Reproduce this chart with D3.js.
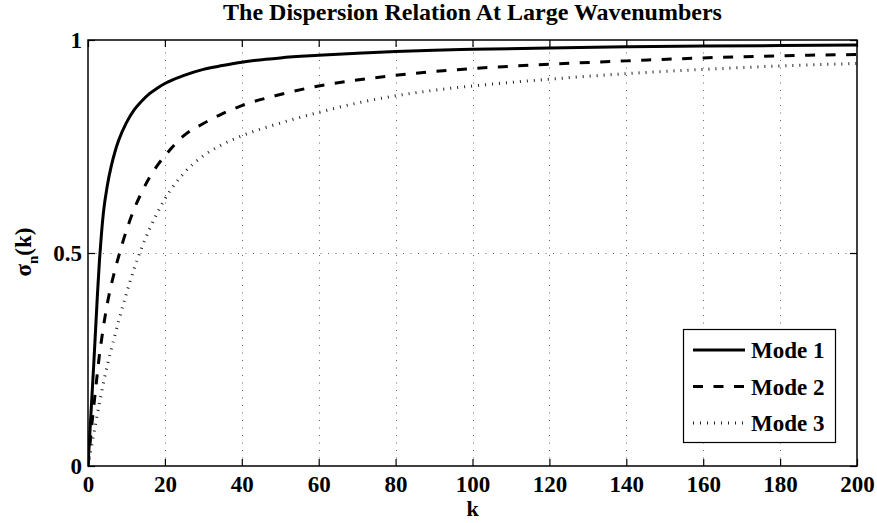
<!DOCTYPE html>
<html>
<head>
<meta charset="utf-8">
<script src="https://cdn.jsdelivr.net/npm/d3@7"></script>
<style>
  html, body { margin: 0; padding: 0; background: #fff; }
  svg { display: block; }
  text { font-family: "Liberation Serif", "Times New Roman", serif; font-weight: bold; fill: #000; }
</style>
</head>
<body>
<svg id="chart" width="877" height="523"></svg>
<script>
// Wavenumber samples and the growth of each mode sigma_n(k)
const kValues = [0, 0.5, 1, 1.5, 2, 2.5, 3, 3.5, 4, 5, 6, 7, 8, 10, 12, 14, 16, 18, 20, 25, 30, 35, 40, 50, 60, 70, 80, 90, 100, 120, 140, 160, 180, 200];
const mode1 = [0, 0.08, 0.16, 0.24, 0.325, 0.41, 0.485, 0.545, 0.594, 0.657, 0.702, 0.737, 0.765, 0.806, 0.836, 0.857, 0.874, 0.887, 0.898, 0.917, 0.931, 0.94, 0.948, 0.958, 0.964, 0.969, 0.973, 0.976, 0.978, 0.981, 0.984, 0.986, 0.987, 0.988];
const mode2 = [0, 0.049, 0.097, 0.14, 0.182, 0.223, 0.263, 0.295, 0.326, 0.38, 0.423, 0.46, 0.493, 0.553, 0.603, 0.643, 0.677, 0.705, 0.728, 0.776, 0.804, 0.827, 0.846, 0.872, 0.892, 0.906, 0.917, 0.926, 0.933, 0.943, 0.951, 0.958, 0.963, 0.966];
const mode3 = [0, 0.025, 0.05, 0.075, 0.1, 0.125, 0.149, 0.172, 0.194, 0.235, 0.272, 0.307, 0.341, 0.405, 0.463, 0.513, 0.556, 0.594, 0.627, 0.688, 0.728, 0.755, 0.775, 0.805, 0.83, 0.852, 0.869, 0.882, 0.892, 0.908, 0.921, 0.931, 0.939, 0.945];

const xTicks = [0, 20, 40, 60, 80, 100, 120, 140, 160, 180, 200];
const yTicks = [0, 0.5, 1];
const seriesNames = ["Mode 1", "Mode 2", "Mode 3"];

const svg = d3.select("#chart");
const margin = { left: 88, right: 20, top: 40, bottom: 57 };
const W = 877, H = 523;
const x0 = margin.left, x1 = W - margin.right;
const y0 = H - margin.bottom, y1 = margin.top;
const FONT = 23;

const x = d3.scaleLinear().domain([0, 200]).range([x0, x1]);
const y = d3.scaleLinear().domain([0, 1]).range([y0, y1]);

// Dotted grid
const grid = svg.append("g").attr("stroke", "#666").attr("stroke-width", 1).attr("stroke-dasharray", "1,6.5");
grid.selectAll("line.gx").data(xTicks.slice(1, -1)).join("line")
  .attr("x1", d => Math.round(x(d)) + 0.5).attr("x2", d => Math.round(x(d)) + 0.5)
  .attr("y1", y0).attr("y2", y1);
grid.selectAll("line.gy").data(yTicks.slice(1, -1)).join("line")
  .attr("y1", d => Math.round(y(d)) + 0.5).attr("y2", d => Math.round(y(d)) + 0.5)
  .attr("x1", x0).attr("x2", x1);

// Curves
svg.append("clipPath").attr("id", "plotclip").append("rect")
  .attr("x", x0).attr("y", y1 - 3).attr("width", x1 - x0).attr("height", y0 - y1 + 3);

const line = d3.line().x(d => x(d[0])).y(d => y(d[1])).curve(d3.curveMonotoneX);
const styles = [
  { dash: null, width: 3 },
  { dash: "10,10.5", width: 3 },
  { dash: "1,6", width: 3 }
];
const series = [mode1, mode2, mode3];
const curves = svg.append("g").attr("clip-path", "url(#plotclip)");
series.forEach((vals, i) => {
  curves.append("path")
    .datum(kValues.map((k, j) => [k, vals[j]]))
    .attr("fill", "none")
    .attr("stroke", i === 2 ? "#222" : "#000")
    .attr("stroke-width", styles[i].width)
    .attr("stroke-dasharray", styles[i].dash)
    .attr("stroke-linejoin", "round")
    .attr("d", line);
});

// Axes: box with inward ticks
const axes = svg.append("g");
axes.append("rect").attr("x", x0).attr("y", y1).attr("width", x1 - x0).attr("height", y0 - y1)
  .attr("fill", "none").attr("stroke", "#000").attr("stroke-width", 1.5);

const bottomAxis = d3.axisBottom(x).tickValues(xTicks).tickSize(-7).tickPadding(10).tickFormat(d3.format("d"));
const topAxis = d3.axisTop(x).tickValues(xTicks).tickSize(-7).tickFormat("");
const leftAxis = d3.axisLeft(y).tickValues(yTicks).tickSize(-7).tickPadding(6).tickFormat(d => d === 0.5 ? "0.5" : d3.format("d")(d));
const rightAxis = d3.axisRight(y).tickValues(yTicks).tickSize(-7).tickFormat("");

function styleAxis(g) {
  g.select(".domain").remove();
  g.selectAll(".tick line").attr("stroke", "#000").attr("stroke-width", 1.2);
  g.selectAll(".tick text").attr("font-size", FONT).attr("font-family", "Liberation Serif").attr("font-weight", "bold").attr("fill", "#000");
}
axes.append("g").attr("transform", `translate(0,${y0})`).call(bottomAxis).call(styleAxis);
axes.append("g").attr("transform", `translate(0,${y1})`).call(topAxis).call(styleAxis);
axes.append("g").attr("transform", `translate(${x0},0)`).call(leftAxis).call(styleAxis);
axes.append("g").attr("transform", `translate(${x1},0)`).call(rightAxis).call(styleAxis);

// Title and labels
svg.append("text").attr("x", (x0 + x1) / 2).attr("y", 20).attr("text-anchor", "middle")
  .attr("font-size", 24).text("The Dispersion Relation At Large Wavenumbers");
svg.append("text").attr("x", (x0 + x1) / 2).attr("y", 516).attr("text-anchor", "middle")
  .attr("font-size", 22).text("k");
const yl = svg.append("text").attr("transform", "translate(31,252) rotate(-90)")
  .attr("text-anchor", "middle").attr("font-size", FONT);
yl.append("tspan").text("σ");
yl.append("tspan").attr("dy", 7).attr("font-size", 15).text("n");
yl.append("tspan").attr("dy", -7).text("(k)");

// Legend
const lg = svg.append("g");
lg.append("rect").attr("x", 683.5).attr("y", 329.5).attr("width", 152).attr("height", 113)
  .attr("fill", "#fff").attr("stroke", "#000").attr("stroke-width", 1.2);
seriesNames.forEach((name, i) => {
  const cy = 350 + i * 36.5;
  lg.append("line").attr("x1", 693).attr("x2", 745).attr("y1", cy).attr("y2", cy)
    .attr("stroke", i === 2 ? "#222" : "#000").attr("stroke-width", styles[i].width)
    .attr("stroke-dasharray", styles[i].dash);
  lg.append("text").attr("x", 751).attr("y", cy + 8).attr("font-size", FONT).text(name);
});
</script>
</body>
</html>
